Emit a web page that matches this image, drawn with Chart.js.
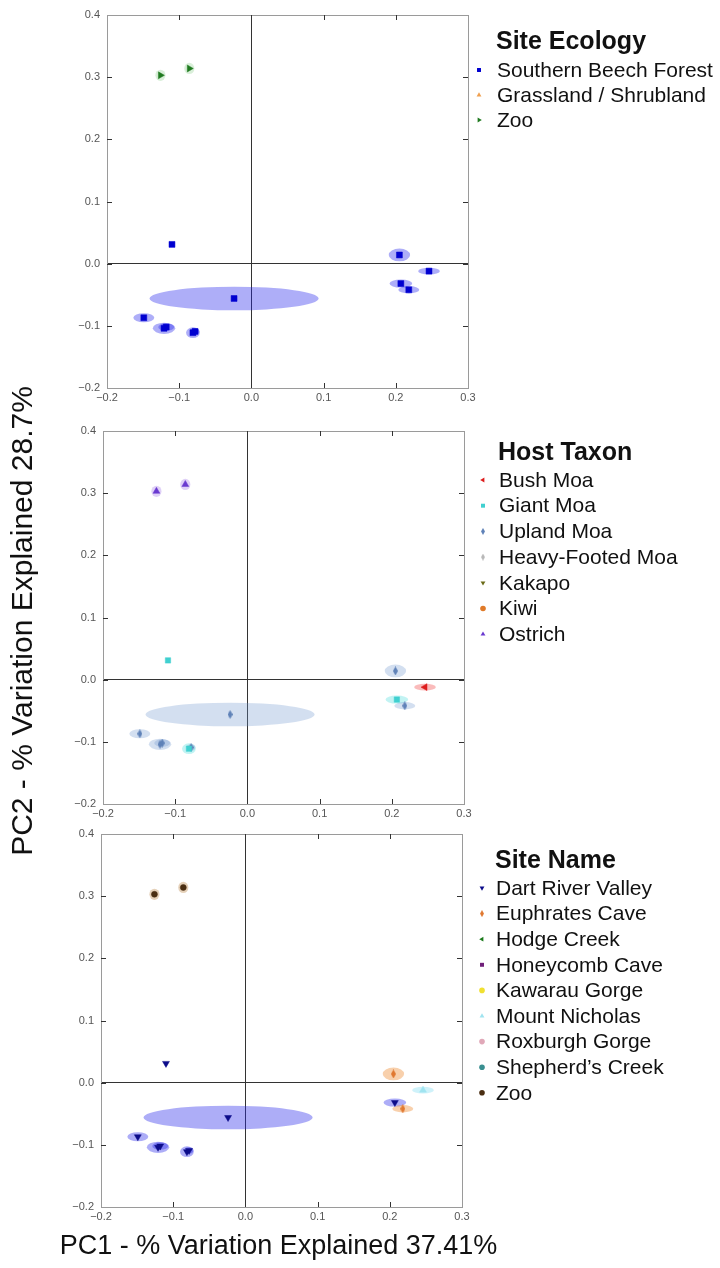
<!DOCTYPE html>
<html>
<head>
<meta charset="utf-8">
<script src="https://cdn.jsdelivr.net/npm/chart.js@4.4.0/dist/chart.umd.min.js"></script>
<style>
  body { margin: 0; background: #fff; font-family: 'Liberation Sans', Arial, sans-serif; color: #111; }
  .panel { position: absolute; left: 0; width: 720px; }
  .axis-title { position: absolute; white-space: nowrap; text-align: center; }
  #yTitle { left: -278px; top: 604px; width: 600px; line-height: 34px; font-size: 30px; transform: rotate(-90deg); }
  #xTitle { left: 0; top: 1230px; width: 557px; line-height: 30px; font-size: 27px; }
</style>
</head>
<body>
<div class="panel" style="top:0;height:413px"><canvas id="ecologyChart"></canvas></div>
<div class="panel" style="top:416px;height:413px"><canvas id="taxonChart"></canvas></div>
<div class="panel" style="top:819px;height:413px"><canvas id="siteChart"></canvas></div>
<div class="axis-title" id="yTitle">PC2 - % Variation Explained 28.7%</div>
<div class="axis-title" id="xTitle">PC1 - % Variation Explained 37.41%</div>
<script>
// PCA scores, one entry per sample
const pc1 = [-0.126, -0.086, -0.110, -0.024, -0.149, -0.121, -0.118, -0.081, -0.078, 0.205, 0.246, 0.207, 0.218];
const pc2 = [0.303, 0.314, 0.031, -0.056, -0.087, -0.104, -0.102, -0.111, -0.109, 0.014, -0.012, -0.032, -0.042];
// ellipse half-widths around each sample (PC1, PC2 units)
const spreadPc1 = [0.007, 0.007, 0.002, 0.117, 0.0145, 0.0155, 0.011, 0.0095, 0.006, 0.0148, 0.015, 0.0157, 0.0145];
const spreadPc2 = [0.009, 0.009, 0.002, 0.019, 0.0073, 0.009, 0.006, 0.0086, 0.005, 0.0102, 0.0054, 0.0065, 0.0059];

const ecologyNames = ["Southern Beech Forest", "Grassland / Shrubland", "Zoo"];
const taxonNames = ["Bush Moa", "Giant Moa", "Upland Moa", "Heavy-Footed Moa", "Kakapo", "Kiwi", "Ostrich"];
const siteNames = ["Dart River Valley", "Euphrates Cave", "Hodge Creek", "Honeycomb Cave", "Kawarau Gorge",
  "Mount Nicholas", "Roxburgh Gorge", "Shepherd\u2019s Creek", "Zoo"];

const sampleEcology = ["Zoo", "Zoo", "Southern Beech Forest", "Southern Beech Forest", "Southern Beech Forest",
  "Southern Beech Forest", "Southern Beech Forest", "Southern Beech Forest", "Southern Beech Forest",
  "Southern Beech Forest", "Southern Beech Forest", "Southern Beech Forest", "Southern Beech Forest"];
const sampleTaxon = ["Ostrich", "Ostrich", "Giant Moa", "Upland Moa", "Upland Moa", "Upland Moa", "Upland Moa",
  "Giant Moa", "Upland Moa", "Upland Moa", "Bush Moa", "Giant Moa", "Upland Moa"];
const sampleSite = ["Zoo", "Zoo", "Dart River Valley", "Dart River Valley", "Dart River Valley", "Dart River Valley",
  "Dart River Valley", "Dart River Valley", "Dart River Valley", "Euphrates Cave", "Mount Nicholas",
  "Dart River Valley", "Euphrates Cave"];

const xTickValues = [-0.2, -0.1, 0.0, 0.1, 0.2, 0.3];
const yTickValues = [-0.2, -0.1, 0.0, 0.1, 0.2, 0.3, 0.4];

// marker looks
const ecologyMarkers = [
  { color: "#0000d0", halo: "rgba(30,30,235,0.36)", style: "rect", rotation: 0, radius: 4.2 },
  { color: "#f0a050", halo: "rgba(240,140,60,0.3)", style: "triangle", rotation: 0, radius: 4 },
  { color: "#207a20", halo: "rgba(80,180,80,0.22)", style: "triangle", rotation: 90, radius: 4 }
];
const taxonMarkers = [
  { color: "#dd1c1c", halo: "rgba(240,60,60,0.35)", style: "triangle", rotation: 270, radius: 4 },
  { color: "#40d0d0", halo: "rgba(80,220,220,0.35)", style: "rect", rotation: 0, radius: 3.8 },
  { color: "#5f82b8", halo: "rgba(110,150,205,0.3)", style: "thin", rotation: 0, radius: 4 },
  { color: "#b8b8b8", halo: "rgba(180,180,180,0.3)", style: "thin", rotation: 0, radius: 4 },
  { color: "#6b6b18", halo: "rgba(120,120,40,0.3)", style: "triangle", rotation: 180, radius: 4 },
  { color: "#e07a28", halo: "rgba(230,130,50,0.3)", style: "circle", rotation: 0, radius: 3 },
  { color: "#6a3ad0", halo: "rgba(150,100,230,0.3)", style: "triangle", rotation: 0, radius: 4 }
];
const siteMarkers = [
  { color: "#0c0c8a", halo: "rgba(40,40,235,0.38)", style: "triangle", rotation: 180, radius: 4 },
  { color: "#e07830", halo: "rgba(240,150,70,0.45)", style: "thin", rotation: 0, radius: 4 },
  { color: "#1a7a1a", halo: "rgba(60,150,60,0.3)", style: "triangle", rotation: 270, radius: 4 },
  { color: "#70207a", halo: "rgba(120,40,130,0.3)", style: "rect", rotation: 0, radius: 3.8 },
  { color: "#f0e030", halo: "rgba(240,225,50,0.3)", style: "circle", rotation: 0, radius: 3 },
  { color: "#a0e4f0", halo: "rgba(160,230,245,0.5)", style: "triangle", rotation: 0, radius: 4 },
  { color: "#e0a8b8", halo: "rgba(225,170,185,0.3)", style: "circle", rotation: 0, radius: 3 },
  { color: "#3a8f90", halo: "rgba(60,145,145,0.3)", style: "circle", rotation: 0, radius: 3 },
  { color: "#4a2e12", halo: "rgba(190,140,80,0.4)", style: "circle", rotation: 0, radius: 3 }
];

Chart.defaults.font.family = "'Liberation Sans', Arial, sans-serif";
const tickFont = { family: "'Liberation Sans', Arial, sans-serif", size: 11 };

function thinDiamond(color, w, h) {
  const c = document.createElement("canvas");
  c.width = w; c.height = h;
  const g = c.getContext("2d");
  g.fillStyle = color;
  g.beginPath();
  g.moveTo(w / 2, 0); g.lineTo(w, h / 2); g.lineTo(w / 2, h); g.lineTo(0, h / 2);
  g.closePath();
  g.fill();
  return c;
}

function fmt(v) {
  const a = Math.abs(v).toFixed(1);
  return v < -1e-9 ? "\u2212" + a : a;
}

// frame, inward ticks and the ellipses under the points
const decor = {
  id: "decor",
  beforeDatasetsDraw(chart) {
    const { ctx, chartArea: a, scales: { x, y } } = chart;
    ctx.save();
    ctx.strokeStyle = "#9a9a9a";
    ctx.lineWidth = 1;
    ctx.strokeRect(Math.round(a.left) + 0.5, Math.round(a.top) + 0.5, Math.round(a.right - a.left), Math.round(a.bottom - a.top));
    ctx.strokeStyle = "#333";
    ctx.beginPath();
    xTickValues.slice(1, -1).forEach(v => {
      const px = Math.round(x.getPixelForValue(v)) + 0.5;
      ctx.moveTo(px, a.top); ctx.lineTo(px, a.top + 5);
      ctx.moveTo(px, a.bottom); ctx.lineTo(px, a.bottom - 5);
    });
    yTickValues.slice(1, -1).forEach(v => {
      const py = Math.round(y.getPixelForValue(v)) + 0.5;
      ctx.moveTo(a.left, py); ctx.lineTo(a.left + 5, py);
      ctx.moveTo(a.right, py); ctx.lineTo(a.right - 5, py);
    });
    ctx.stroke();

    ctx.beginPath();
    ctx.rect(a.left, a.top, a.right - a.left, a.bottom - a.top);
    ctx.clip();
    chart.data.datasets.forEach(ds => {
      ctx.fillStyle = ds.halo;
      ds.samples.forEach(i => {
        const cx = x.getPixelForValue(pc1[i]);
        const cy = y.getPixelForValue(pc2[i]);
        const rx = Math.abs(x.getPixelForValue(pc1[i] + spreadPc1[i]) - cx);
        const ry = Math.abs(y.getPixelForValue(pc2[i] + spreadPc2[i]) - cy);
        ctx.beginPath();
        ctx.ellipse(cx, cy, rx, ry, 0, 0, Math.PI * 2);
        ctx.fill();
      });
    });
    ctx.restore();
  }
};

// legend to the right of each plot, built from the datasets
function sideLegend(opt) {
  return {
    id: "sideLegend",
    afterDraw(chart) {
      const ctx = chart.ctx;
      ctx.save();
      ctx.fillStyle = "#111";
      ctx.textBaseline = "middle";
      ctx.textAlign = "left";
      ctx.font = "bold 25px 'Liberation Sans', Arial, sans-serif";
      ctx.fillText(opt.title, opt.textX - 1, opt.titleY);
      ctx.font = "21px 'Liberation Sans', Arial, sans-serif";
      chart.data.datasets.forEach((ds, k) => {
        const yy = opt.firstY + k * opt.step;
        ctx.fillStyle = ds.backgroundColor;
        ctx.strokeStyle = ds.borderColor;
        ctx.lineWidth = 1;
        Chart.helpers.drawPoint(ctx, {
          pointStyle: ds.legendStyle, rotation: ds.pointRotation, radius: 2.8, borderWidth: 0
        }, opt.markerX, yy);
        ctx.fillStyle = "#111";
        ctx.fillText(ds.label, opt.textX, yy + 1);
      });
      ctx.restore();
    }
  };
}

function makePanel(canvasId, p) {
  const datasets = p.names.map((name, k) => {
    const m = p.markers[k];
    const samples = p.groups.map((g, i) => (g === name ? i : -1)).filter(i => i >= 0);
    const isThin = m.style === "thin";
    return {
      label: name,
      data: samples.map(i => ({ x: pc1[i], y: pc2[i] })),
      samples: samples,
      halo: m.halo,
      pointStyle: isThin ? thinDiamond(m.color, 5, 9) : m.style,
      legendStyle: isThin ? thinDiamond(m.color, 4, 7) : m.style,
      pointRotation: m.rotation,
      pointRadius: m.radius,
      backgroundColor: m.color,
      borderColor: m.color,
      borderWidth: 0.5
    };
  });

  return new Chart(document.getElementById(canvasId), {
    type: "scatter",
    data: { datasets },
    options: {
      responsive: true,
      maintainAspectRatio: false,
      animation: false,
      events: [],
      layout: { padding: { left: p.padLeft, right: p.padRight, top: 15, bottom: 0 } },
      plugins: { legend: { display: false }, tooltip: { enabled: false } },
      scales: {
        x: {
          type: "linear", min: -0.2, max: 0.3,
          afterBuildTicks: s => { s.ticks = xTickValues.map(v => ({ value: v })); },
          afterFit: s => { s.height = 25; },
          grid: { color: c => (Math.abs(c.tick.value) < 1e-9 ? "#333" : "rgba(0,0,0,0)"), drawTicks: false },
          border: { display: false },
          ticks: { padding: 3, color: "#555", font: tickFont, callback: fmt, autoSkip: false, maxRotation: 0 }
        },
        y: {
          type: "linear", min: -0.2, max: 0.4,
          afterBuildTicks: s => { s.ticks = yTickValues.map(v => ({ value: v })); },
          afterFit: s => { s.width = 50; },
          grid: { color: c => (Math.abs(c.tick.value) < 1e-9 ? "#333" : "rgba(0,0,0,0)"), drawTicks: false },
          border: { display: false },
          ticks: { padding: 7, color: "#555", font: tickFont, callback: fmt, autoSkip: false }
        }
      }
    },
    plugins: [decor, sideLegend(p.legend)]
  });
}

makePanel("ecologyChart", {
  names: ecologyNames, groups: sampleEcology, markers: ecologyMarkers,
  padLeft: 57, padRight: 252,
  legend: { title: "Site Ecology", markerX: 479, textX: 497, titleY: 42, firstY: 70, step: 25 }
});

makePanel("taxonChart", {
  names: taxonNames, groups: sampleTaxon, markers: taxonMarkers,
  padLeft: 53, padRight: 256,
  legend: { title: "Host Taxon", markerX: 483, textX: 499, titleY: 37, firstY: 64, step: 25.7 }
});

makePanel("siteChart", {
  names: siteNames, groups: sampleSite, markers: siteMarkers,
  padLeft: 51, padRight: 258,
  legend: { title: "Site Name", markerX: 482, textX: 496, titleY: 42, firstY: 69, step: 25.6 }
});
</script>
</body>
</html>
